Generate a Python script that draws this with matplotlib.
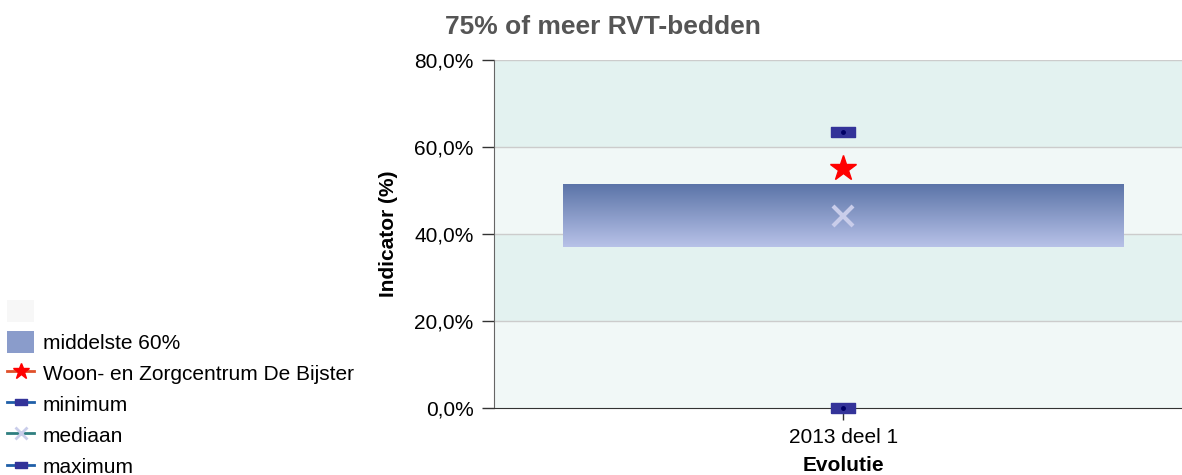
import numpy as np
import matplotlib
matplotlib.use("Agg")
from matplotlib import pyplot as plt
from matplotlib.lines import Line2D
from matplotlib.patches import Patch

# data
categories = ["2013 deel 1"]
p20 = [37.0]
p80 = [51.3]
median = [44.1]
minimum = [0.0]
maximum = [63.4]
own = [55.2]
yticks = [0, 20, 40, 60, 80]

plt.rcParams['font.family'] = ['Liberation Sans', 'DejaVu Sans']

fig = plt.figure(figsize=(11.82, 4.75), dpi=100)
ax = fig.add_axes([494 / 1182, 67 / 475, 688 / 1182, 348 / 475])

x = np.arange(len(categories))

# alternating background bands
for i in range(len(yticks) - 1):
    col = '#f1f8f7' if i % 2 == 0 else '#e3f2f0'
    ax.axhspan(yticks[i], yticks[i + 1], color=col, zorder=0, lw=0)
for t in yticks[1:]:
    ax.axhline(t, color='#cccccc', lw=1, zorder=1)

# middle 60% band with vertical gradient
grad = np.linspace(0, 1, 256).reshape(-1, 1)
cmap = matplotlib.colors.LinearSegmentedColormap.from_list('box', ['#b8c2e8', '#5b74a8'])
for xi, lo, hi in zip(x, p20, p80):
    ax.imshow(grad, extent=(xi - 0.4, xi + 0.4, lo, hi), origin='lower', cmap=cmap,
              aspect='auto', zorder=2)
ax.set_xlim(-0.4986, 0.484)
ax.set_ylim(0, 80)

rect = [(-1, -0.42), (1, -0.42), (1, 0.42), (-1, 0.42), (-1, -0.42)]
ax.plot(x, minimum, ls='none', marker=rect, ms=17, color='#333399', zorder=4, clip_on=False)
ax.plot(x, maximum, ls='none', marker=rect, ms=17, color='#333399', zorder=4)
ax.plot(x, minimum, ls='none', marker='o', ms=2.5, color='#000066', zorder=5, clip_on=False)
ax.plot(x, maximum, ls='none', marker='o', ms=2.5, color='#000066', zorder=5)
ax.plot(x, median, ls='none', marker='x', ms=14, mew=3, color='#c9cdea', zorder=4)
ax.plot(x, own, ls='none', marker='*', ms=19, color='#ff0000', zorder=4)

ax.set_yticks(yticks)
ax.set_yticklabels([f"{t:.1f}%".replace('.', ',') for t in yticks], fontsize=15)
ax.set_xticks(x)
ax.set_xticklabels(categories, fontsize=15)
ax.tick_params(axis='both', length=8.6, width=1, color='#333333')
ax.tick_params(axis='y', pad=6)
ax.tick_params(axis='x', pad=5.5)

for s in ['top', 'right']:
    ax.spines[s].set_visible(False)
ax.spines['left'].set_color('#666666')
ax.spines['bottom'].set_color('#333333')
ax.spines['bottom'].set_zorder(3)

ax.set_ylabel("Indicator (%)", fontsize=15, fontweight='bold')
ax.yaxis.set_label_coords(-0.14, 0.5)
ax.set_xlabel("Evolutie", fontsize=15, fontweight='bold')
ax.xaxis.set_label_coords(349 / 688, -0.137)

fig.text(603 / 1182, 1 - 27 / 475, "75% of meer RVT-bedden", ha='center', va='center',
         fontsize=19, fontweight='bold', color='#555555')

handles = [
    Patch(facecolor='#f7f7f7', edgecolor='none'),
    Patch(facecolor='#8a9ccb', edgecolor='none'),
    Line2D([], [], color='#e0502a', lw=2, marker='*', ms=12, mfc='#ff0000', mec='#ff0000'),
    Line2D([], [], color='#1f5fa8', lw=2, marker=rect, ms=9, mfc='#333399', mec='#333399'),
    Line2D([], [], color='#2f7f80', lw=2, marker='x', ms=8, mew=2, mec='#c9cdea'),
    Line2D([], [], color='#1f5fa8', lw=2, marker=rect, ms=9, mfc='#333399', mec='#333399'),
]
labels = ["", "middelste 60%", "Woon- en Zorgcentrum De Bijster", "minimum", "mediaan", "maximum"]
fig.legend(handles, labels, loc='upper left', bbox_to_anchor=(0.0, 1 - 293 / 475),
           frameon=False, fontsize=15, handlelength=1.3, handleheight=1.2,
           handletextpad=0.4, labelspacing=0.45, borderaxespad=0, borderpad=0.35)

fig.savefig("out.png", dpi=100)
